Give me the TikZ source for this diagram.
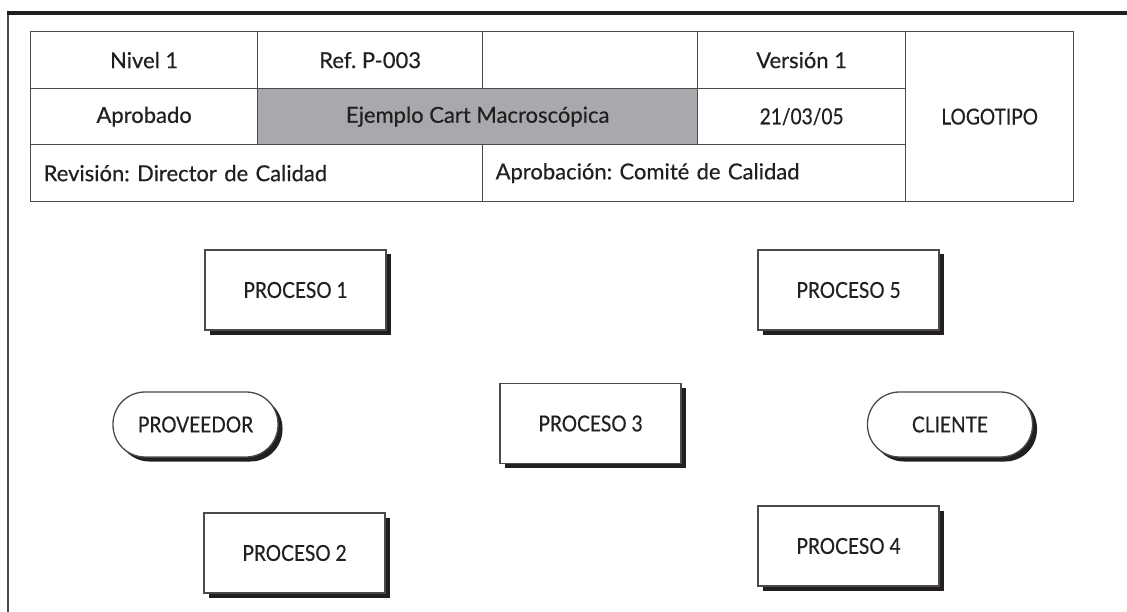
\documentclass[tikz,border=0pt]{standalone}
\usepackage{fontspec}
\setmainfont{Lato}[FakeBold=0.4]
\newfontfamily\narrowfont{Lato}[FakeBold=0.4, FakeStretch=0.87]
\usetikzlibrary{shadows}
\definecolor{ink}{HTML}{231F20}
\definecolor{rulec}{HTML}{4A4A4A}
\definecolor{cellgray}{HTML}{A7A9AC}
\frenchspacing
\tikzset{
  txt/.style={font=\fontsize{22}{26}\selectfont, text=ink},
  ntxt/.style={font=\fontsize{22}{26}\selectfont\narrowfont, text=ink},
  cell/.style={draw=rulec, line width=1.3pt, inner sep=0pt, anchor=north west, txt},
  lcell/.style={cell, align=left, inner xsep=13pt},
  procbox/.style={draw=rulec, line width=1.3pt, fill=white, minimum width=181pt,
    minimum height=80pt, inner sep=0pt, ntxt,
    drop shadow={shadow xshift=4.5pt, shadow yshift=-4.5pt, fill=ink, opacity=1}},
  termbox/.style={procbox, minimum width=165pt, minimum height=65pt, rounded corners=32pt}
}
\begin{document}
\begin{tikzpicture}[x=1pt,y=-1pt]
\useasboundingbox (0,0) rectangle (1127,612);
\fill[white] (0,0) rectangle (1127,612);
% frame lines
\coordinate (tl) at (7,13);
\coordinate (tr) at (1127,13);
\coordinate (bl) at (8,612);
\draw[rulec, line width=2pt] (8,11) -- (bl);
\draw[ink, line width=4pt] (tl) -- (tr);
% table
\node[cell, minimum width=227pt, minimum height=57pt] (c11) at (30,31) {Nivel 1};
\node[cell, minimum width=225pt, minimum height=57pt] (c12) at (257,31) {Ref. P-003};
\node[cell, minimum width=215pt, minimum height=57pt] (c13) at (482,31) {};
\node[cell, minimum width=208pt, minimum height=57pt] (c14) at (697,31) {Versión 1};
\node[cell, minimum width=227pt, minimum height=56pt] (c21) at (30,88) {Aprobado};
\node[cell, fill=cellgray, minimum width=440pt, minimum height=56pt] (c22) at (257,88) {Ejemplo Cart Macroscópica};
\node[cell, ntxt, minimum width=208pt, minimum height=56pt] (c23) at (697,88) {21/03/05};
\node[lcell, text width=426pt, minimum height=57pt] (c31) at (30,144) {Revisión: Director de Calidad};
\node[lcell, text width=397pt, minimum height=57pt] (c32) at (482,144) {Aprobación: Comité de Calidad};
\node[cell, ntxt, minimum width=168pt, minimum height=170pt] (logo) at (905,31) {LOGOTIPO};
% process map
\node[procbox] (p1) at (295.5,290) {PROCESO 1};
\node[procbox] (p5) at (848.5,290) {PROCESO 5};
\node[termbox] (prov) at (195.5,424.5) {PROVEEDOR};
\node[procbox] (p3) at (590.5,423.5) {PROCESO 3};
\node[termbox] (cli) at (950,424.5) {CLIENTE};
\node[procbox] (p2) at (294.5,553) {PROCESO 2};
\node[procbox] (p4) at (848.5,546) {PROCESO 4};
\end{tikzpicture}
\end{document}
